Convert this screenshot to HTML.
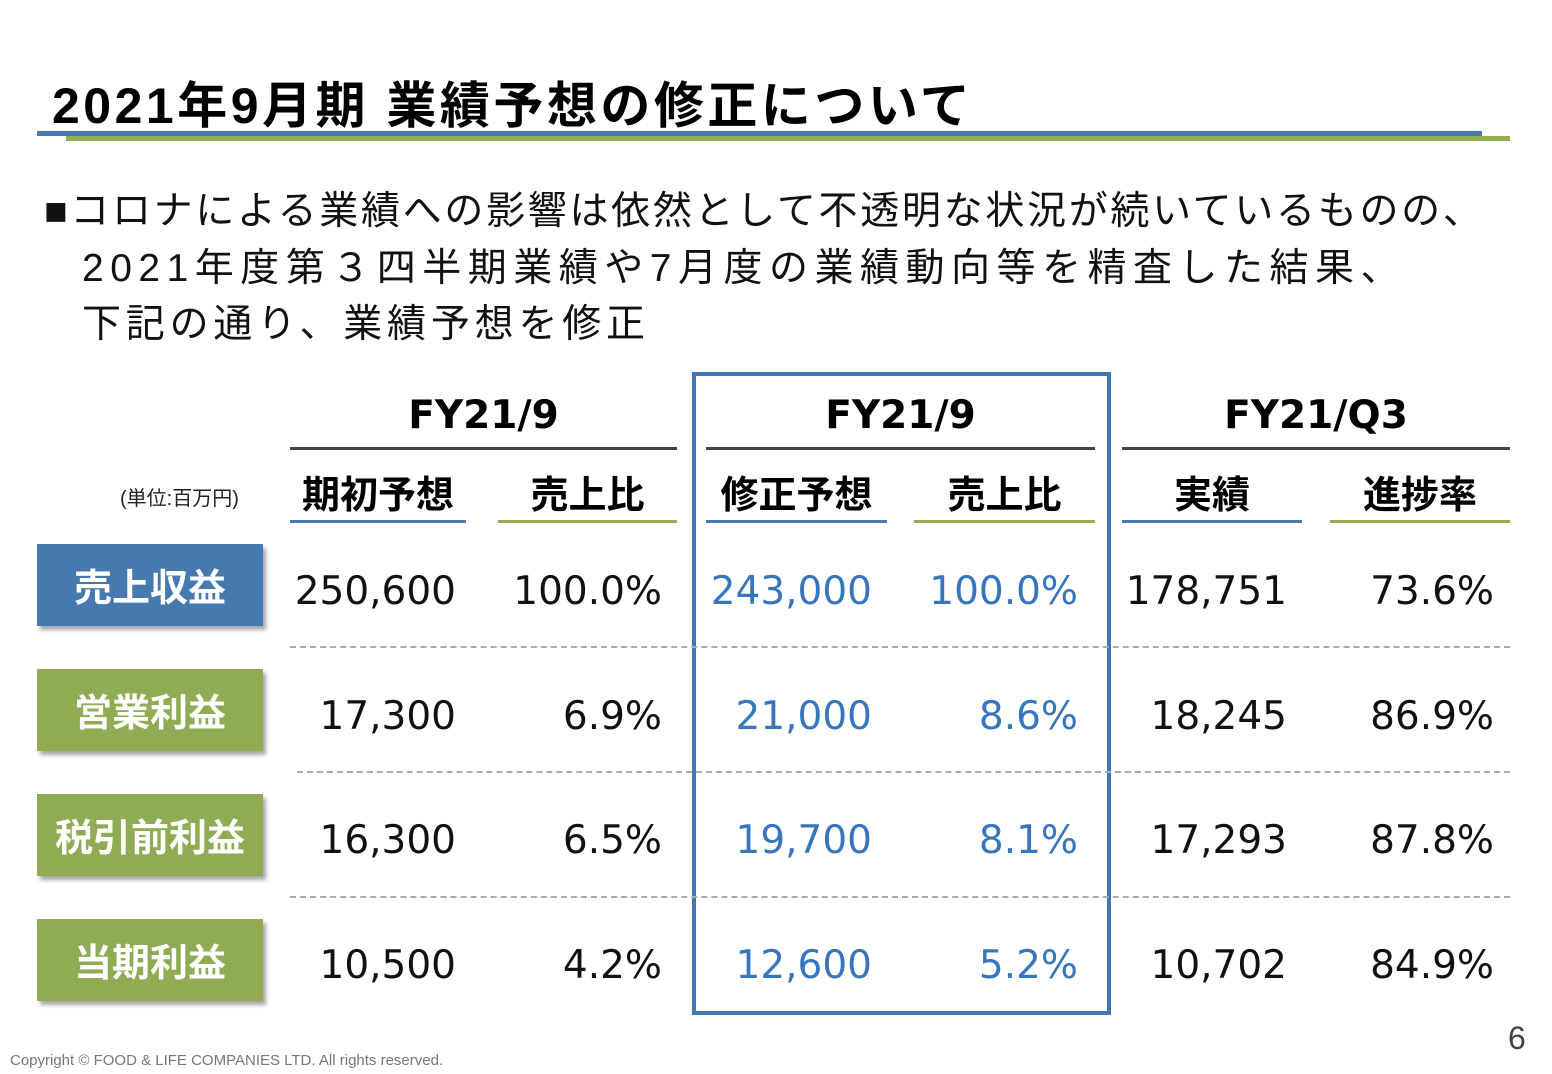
<!DOCTYPE html>
<html><head><meta charset="utf-8"><style>
body{margin:0;width:1552px;height:1074px;background:#fff;position:relative;overflow:hidden;font-family:"Liberation Sans","Noto Sans CJK JP",sans-serif;}
.a{position:absolute;white-space:nowrap;}
.title{left:52px;top:66px;font-size:50px;font-weight:bold;color:#000;letter-spacing:3.5px;}
.body{left:44px;font-size:39px;color:#111;}
.gh{font-family:"DejaVu Sans","Noto Sans CJK JP",sans-serif;font-weight:bold;font-size:39px;text-align:center;}
.sh{font-family:"Noto Sans CJK JP",sans-serif;font-weight:bold;font-size:38px;text-align:center;top:464px;}
.num{font-family:"DejaVu Sans",sans-serif;font-size:39px;text-align:right;color:#111;}
.blue{color:#3776bd;}
.lbl{left:37px;width:226px;height:82px;color:#fff;font-family:"Noto Sans CJK JP",sans-serif;font-weight:bold;font-size:38px;text-align:center;line-height:82px;box-shadow:3px 4px 4px rgba(0,0,0,0.35);}
.dash{left:290px;width:1220px;border-top:2px dashed #aaa;height:0;}
</style></head><body>
<div class="a title">2021年9月期 業績予想の修正について</div>
<div class="a" style="left:37px;top:131px;width:1445px;height:5px;background:#4a7ab0"></div>
<div class="a" style="left:66px;top:136px;width:1444px;height:5px;background:#93b04f"></div>
<div class="a body" style="top:180px;letter-spacing:2.7px">■コロナによる業績への影響は依然として不透明な状況が続いているものの、</div>
<div class="a body" style="top:237px;left:82px;letter-spacing:6.5px">2021年度第３四半期業績や7月度の業績動向等を精査した結果、</div>
<div class="a body" style="top:293px;left:82px;letter-spacing:4.8px">下記の通り、業績予想を修正</div>

<div class="a" style="left:692px;top:372px;width:411px;height:635px;border:4px solid #4277b2"></div>

<div class="a gh" style="left:290px;width:387px;top:393px">FY21/9</div>
<div class="a gh" style="left:706px;width:389px;top:393px">FY21/9</div>
<div class="a gh" style="left:1122px;width:388px;top:393px">FY21/Q3</div>
<div class="a" style="left:290px;top:447px;width:387px;height:3px;background:#444"></div>
<div class="a" style="left:706px;top:447px;width:389px;height:3px;background:#444"></div>
<div class="a" style="left:1122px;top:447px;width:388px;height:3px;background:#444"></div>

<div class="a" style="left:120px;top:482px;font-size:20px;color:#222">(単位:百万円)</div>
<div class="a sh" style="left:290px;width:176px">期初予想</div>
<div class="a sh" style="left:498px;width:179px">売上比</div>
<div class="a sh" style="left:706px;width:181px">修正予想</div>
<div class="a sh" style="left:914px;width:181px">売上比</div>
<div class="a sh" style="left:1122px;width:180px">実績</div>
<div class="a sh" style="left:1330px;width:180px">進捗率</div>
<div class="a" style="left:290px;top:520px;width:176px;height:3px;background:#4a7ab8"></div>
<div class="a" style="left:498px;top:520px;width:179px;height:3px;background:#93b04f"></div>
<div class="a" style="left:706px;top:520px;width:181px;height:3px;background:#4a7ab8"></div>
<div class="a" style="left:914px;top:520px;width:181px;height:3px;background:#93b04f"></div>
<div class="a" style="left:1122px;top:520px;width:180px;height:3px;background:#4a7ab8"></div>
<div class="a" style="left:1330px;top:520px;width:180px;height:3px;background:#93b04f"></div>

<div class="a lbl" style="top:544px;background:#4579b0">売上収益</div>
<div class="a lbl" style="top:669px;background:#8fac55">営業利益</div>
<div class="a lbl" style="top:794px;background:#8fac55">税引前利益</div>
<div class="a lbl" style="top:919px;background:#8fac55">当期利益</div>

<div class="a dash" style="top:646px"></div>
<div class="a dash" style="top:771px;left:297px;width:1213px"></div>
<div class="a dash" style="top:896px"></div>

<div id="cells"></div>

<div class="a" style="left:10px;top:1052px;font-size:15px;color:#777">Copyright © FOOD &amp; LIFE COMPANIES LTD. All rights reserved.</div>
<div class="a" style="left:1508px;top:1020px;font-size:32px;color:#444">6</div>

<script>
const initialForecast=["250,600","17,300","16,300","10,500"];
const initialRatio=["100.0%","6.9%","6.5%","4.2%"];
const revisedForecast=["243,000","21,000","19,700","12,600"];
const revisedRatio=["100.0%","8.6%","8.1%","5.2%"];
const actualQ3=["178,751","18,245","17,293","10,702"];
const progressRate=["73.6%","86.9%","87.8%","84.9%"];
const cols=[[initialForecast,456,"initial-forecast",false],[initialRatio,662,"initial-ratio",false],[revisedForecast,872,"revised-forecast",true],[revisedRatio,1078,"revised-ratio",true],[actualQ3,1287,"actual",false],[progressRate,1494,"progress",false]];
const host=document.getElementById('cells');
cols.forEach(([arr,right,name,blue])=>{
  arr.forEach((v,i)=>{
    const d=document.createElement('div');
    d.className='a num'+(blue?' blue':'');
    d.style.left=(right-220)+'px';
    d.style.width='220px';
    d.style.top=(569+i*124.5)+'px';
    d.textContent=v;
    
    
    host.appendChild(d);
  });
});
</script>
</body></html>
